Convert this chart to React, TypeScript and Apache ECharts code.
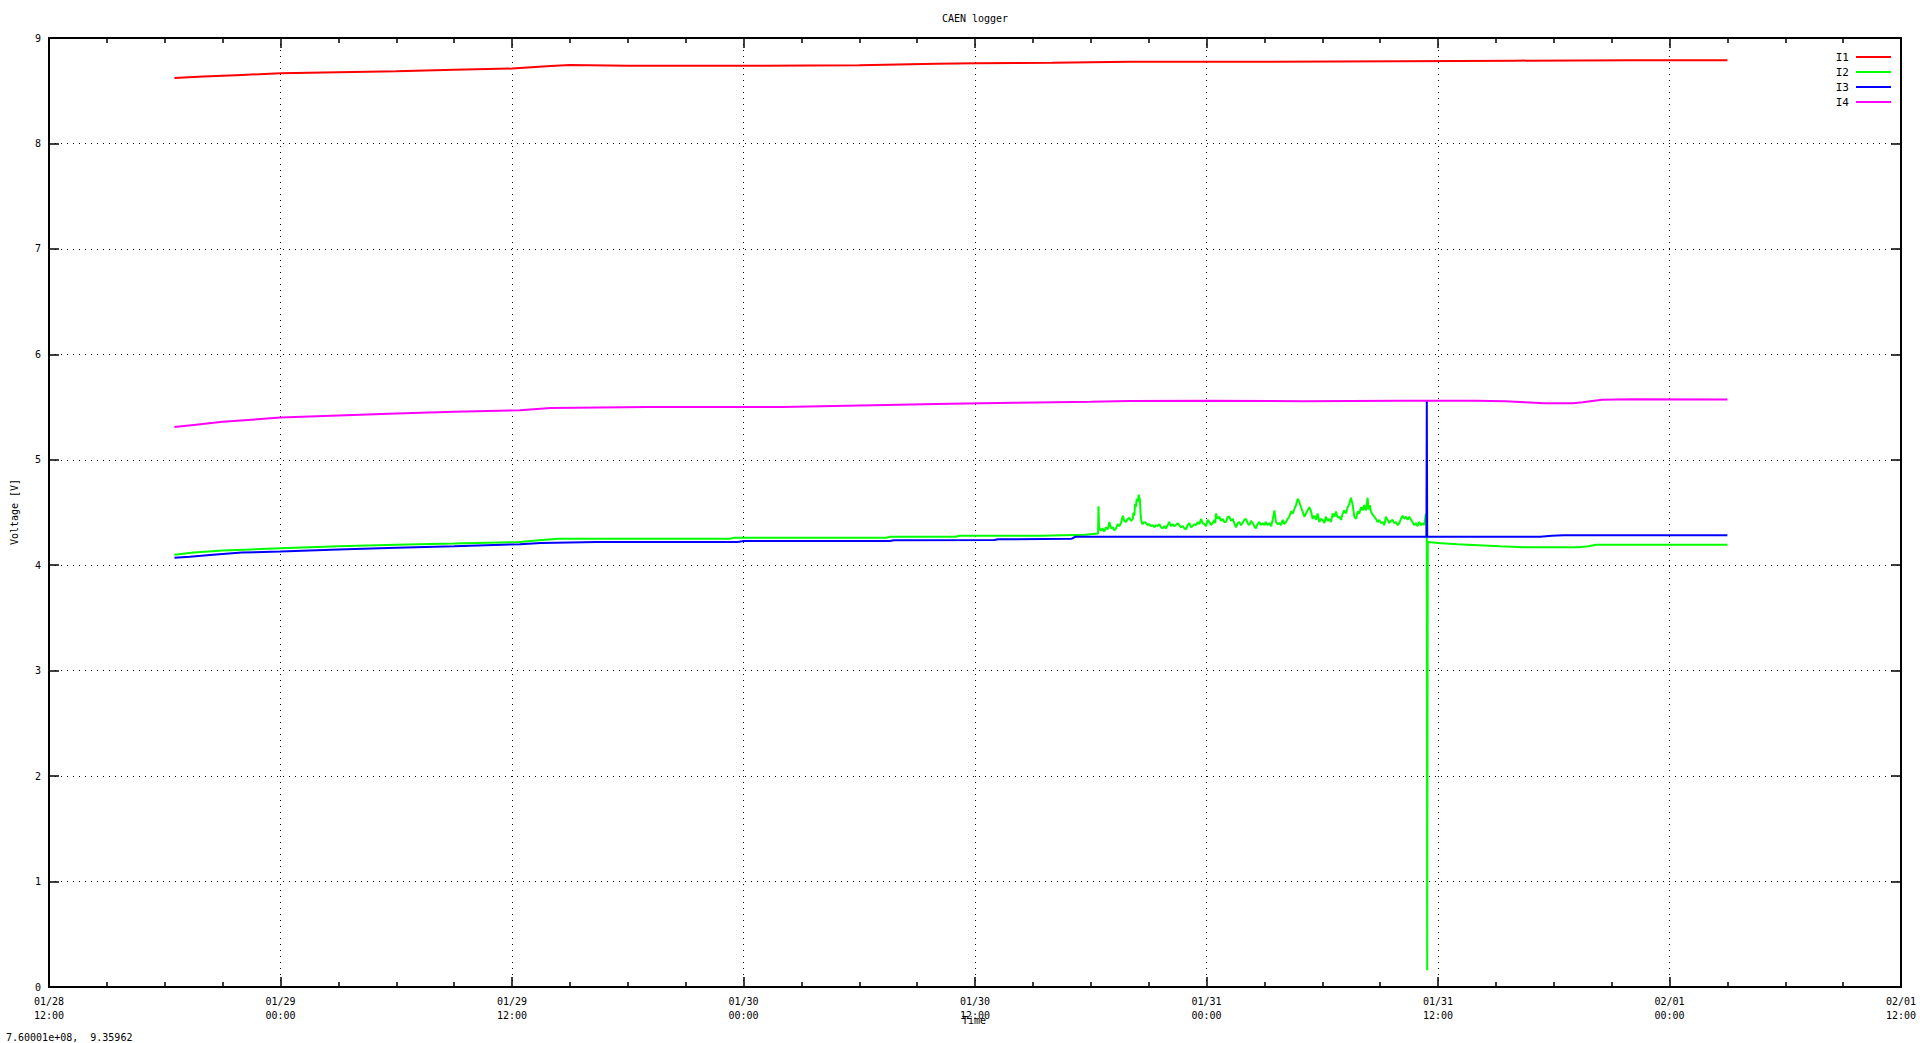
import React, { useEffect, useRef } from "react";
import * as echarts from "echarts";

// x values are hours since 01/28 12:00
const xTickLabels = [
  "01/28\n12:00", "01/29\n00:00", "01/29\n12:00", "01/30\n00:00", "01/30\n12:00",
  "01/31\n00:00", "01/31\n12:00", "02/01\n00:00", "02/01\n12:00",
];
const seriesNames = ["I1", "I2", "I3", "I4"];
const seriesColors = ["#ff0000", "#00ff00", "#0000ff", "#ff00ff"];

const i1Data: [number, number][] = [
  [6.5, 8.62], [8, 8.635], [10, 8.65], [12, 8.665], [15, 8.675], [18, 8.685], [21, 8.7],
  [24, 8.71], [26, 8.735], [27, 8.745], [30, 8.737], [36, 8.737], [42, 8.742], [46, 8.755],
  [48, 8.76], [52, 8.765], [56, 8.775], [62, 8.775], [70, 8.78], [76, 8.785], [82, 8.79], [87, 8.79],
];

const i2Data: [number, number][] = [
  [6.5, 4.1], [7.5, 4.12], [9, 4.14], [10.5, 4.15], [12, 4.16], [15, 4.18], [18, 4.195], [21, 4.205],
  [24.4, 4.22], [25.4, 4.237], [26.4, 4.25], [35.3, 4.25], [35.5, 4.26], [43.4, 4.26], [43.6, 4.27],
  [47, 4.27], [47.2, 4.28], [51.4, 4.28], [53.7, 4.29], [54.38, 4.3],
  [54.4, 4.56], [54.43, 4.37], [54.47, 4.34], [54.55, 4.33], [54.62, 4.35], [54.7, 4.32], [54.79, 4.36],
  [54.88, 4.34], [54.97, 4.41], [55.05, 4.35], [55.14, 4.36], [55.22, 4.33], [55.31, 4.35], [55.4, 4.39],
  [55.48, 4.37], [55.57, 4.4], [55.66, 4.47], [55.74, 4.42], [55.83, 4.41], [55.92, 4.44], [56.0, 4.45],
  [56.09, 4.42], [56.18, 4.44], [56.21, 4.5], [56.26, 4.47], [56.3, 4.58], [56.34, 4.55], [56.38, 4.63],
  [56.44, 4.6], [56.49, 4.67], [56.52, 4.64], [56.55, 4.62], [56.58, 4.5], [56.61, 4.44], [56.65, 4.4],
  [56.69, 4.39], [56.78, 4.41], [56.87, 4.4], [56.95, 4.38], [57.04, 4.39], [57.12, 4.37], [57.21, 4.38],
  [57.3, 4.36], [57.38, 4.38], [57.47, 4.37], [57.56, 4.39], [57.64, 4.36], [57.73, 4.35], [57.82, 4.37],
  [57.9, 4.35], [57.99, 4.38], [58.07, 4.41], [58.16, 4.37], [58.25, 4.39], [58.33, 4.37], [58.42, 4.38],
  [58.51, 4.4], [58.59, 4.38], [58.68, 4.36], [58.77, 4.37], [58.85, 4.35], [58.94, 4.34], [59.02, 4.38],
  [59.11, 4.4], [59.2, 4.36], [59.28, 4.37], [59.37, 4.39], [59.46, 4.38], [59.55, 4.41], [59.63, 4.39],
  [59.72, 4.44], [59.8, 4.4], [59.89, 4.39], [59.97, 4.37], [60.06, 4.43], [60.15, 4.41], [60.23, 4.38],
  [60.32, 4.4], [60.41, 4.43], [60.45, 4.4], [60.49, 4.49], [60.57, 4.44], [60.66, 4.46], [60.75, 4.42],
  [60.84, 4.44], [60.92, 4.41], [61.01, 4.41], [61.1, 4.46], [61.18, 4.46], [61.27, 4.42], [61.36, 4.44],
  [61.44, 4.4], [61.53, 4.36], [61.62, 4.4], [61.7, 4.41], [61.79, 4.38], [61.87, 4.4], [61.96, 4.43],
  [62.05, 4.44], [62.13, 4.4], [62.22, 4.38], [62.31, 4.42], [62.39, 4.4], [62.48, 4.37], [62.56, 4.35],
  [62.65, 4.39], [62.74, 4.41], [62.82, 4.38], [62.91, 4.4], [63.0, 4.38], [63.08, 4.41], [63.17, 4.38],
  [63.26, 4.4], [63.35, 4.37], [63.43, 4.43], [63.52, 4.52], [63.6, 4.41], [63.69, 4.39], [63.77, 4.4],
  [63.86, 4.38], [63.95, 4.43], [64.03, 4.39], [64.12, 4.41], [64.21, 4.44], [64.29, 4.46], [64.38, 4.51],
  [64.47, 4.49], [64.55, 4.53], [64.64, 4.57], [64.73, 4.63], [64.81, 4.6], [64.9, 4.55], [64.98, 4.51],
  [65.07, 4.46], [65.16, 4.49], [65.24, 4.52], [65.33, 4.55], [65.42, 4.51], [65.5, 4.44], [65.59, 4.47],
  [65.68, 4.43], [65.76, 4.49], [65.85, 4.41], [65.93, 4.44], [66.02, 4.43], [66.11, 4.4], [66.19, 4.46],
  [66.28, 4.42], [66.37, 4.44], [66.45, 4.41], [66.54, 4.49], [66.63, 4.46], [66.71, 4.51], [66.8, 4.45],
  [66.88, 4.46], [66.97, 4.43], [67.06, 4.49], [67.14, 4.52], [67.23, 4.49], [67.32, 4.55], [67.4, 4.58],
  [67.49, 4.64], [67.58, 4.57], [67.66, 4.46], [67.75, 4.44], [67.84, 4.51], [67.92, 4.49], [68.01, 4.55],
  [68.1, 4.52], [68.18, 4.57], [68.27, 4.52], [68.35, 4.64], [68.4, 4.53], [68.47, 4.57], [68.52, 4.51],
  [68.61, 4.48], [68.7, 4.46], [68.78, 4.44], [68.87, 4.41], [68.96, 4.43], [69.04, 4.4], [69.13, 4.41],
  [69.22, 4.38], [69.3, 4.46], [69.39, 4.43], [69.47, 4.4], [69.56, 4.42], [69.65, 4.43], [69.73, 4.4],
  [69.82, 4.41], [69.91, 4.38], [69.99, 4.4], [70.08, 4.44], [70.17, 4.47], [70.25, 4.44], [70.34, 4.46],
  [70.43, 4.43], [70.51, 4.46], [70.6, 4.43], [70.68, 4.41], [70.77, 4.38], [70.86, 4.4], [70.94, 4.37],
  [71.03, 4.41], [71.12, 4.38], [71.2, 4.4], [71.29, 4.38], [71.37, 4.49], [71.42, 4.4],
  [71.44, 0.16], [71.47, 4.22], [72.0, 4.21], [73.0, 4.2], [75.2, 4.18], [76.5, 4.17], [79.3, 4.17],
  [79.8, 4.18], [80.2, 4.195], [87, 4.195],
];

const i3Data: [number, number][] = [
  [6.5, 4.07], [7.3, 4.08], [8.5, 4.1], [10, 4.12], [12, 4.13], [15, 4.15], [18, 4.165], [21, 4.18],
  [24.4, 4.2], [25.5, 4.21], [28.4, 4.22], [35.7, 4.22], [36, 4.23], [43.6, 4.23], [43.8, 4.237],
  [49, 4.24], [49.2, 4.246], [53, 4.25], [53.2, 4.27], [71.4, 4.27], [71.42, 5.56], [71.44, 4.27],
  [77.3, 4.27], [77.9, 4.28], [78.5, 4.285], [87, 4.285],
];

const i4Data: [number, number][] = [
  [6.5, 5.31], [7.5, 5.33], [9, 5.36], [10.5, 5.38], [12, 5.4], [15, 5.42], [18, 5.44], [21, 5.455],
  [24.4, 5.47], [26, 5.49], [31, 5.5], [38, 5.5], [43.4, 5.52], [46, 5.53], [50, 5.54], [54, 5.55],
  [56, 5.557], [60, 5.56], [65, 5.555], [70, 5.56], [74, 5.56], [75.5, 5.555], [76.5, 5.545],
  [77.5, 5.535], [79, 5.535], [79.5, 5.545], [80.5, 5.57], [82, 5.575], [87, 5.572],
];

const FONT = "'DejaVu Sans Mono', monospace";

export default function App() {
  const ref = useRef<HTMLDivElement>(null);
  useEffect(() => {
    if (!ref.current) return;
    const chart = echarts.init(ref.current, null, { renderer: "svg" });
    const allData = [i1Data, i2Data, i3Data, i4Data];
    const tickLine = { color: "#000", width: 1.5 };
    const dotted = { color: "#000", width: 1, type: [1, 5] as any };
    const common = { fontFamily: FONT, fontSize: 10, color: "#000" };
    chart.setOption({
      animation: false,
      backgroundColor: "#fff",
      grid: { left: 49, right: 19, top: 38, bottom: 56, containLabel: false },
      legend: {
        orient: "vertical",
        right: 29,
        top: 51,
        padding: 0,
        align: "right",
        icon: "rect",
        itemWidth: 35,
        itemHeight: 2,
        itemGap: 3,
        textStyle: { ...common, fontSize: 11, lineHeight: 12, padding: [0, 2, 0, 0] },
        data: seriesNames,
      },
      xAxis: [
        {
          type: "value",
          min: 0,
          max: 96,
          interval: 12,
          position: "bottom",
          axisLine: { show: true, onZero: false, lineStyle: { color: "#000", width: 2 } },
          axisTick: { show: true, inside: true, length: 10, lineStyle: tickLine },
          minorTick: { show: true, splitNumber: 4, length: 5, lineStyle: tickLine },
          splitLine: { show: true, lineStyle: dotted },
          axisLabel: {
            ...common,
            margin: 7,
            lineHeight: 14,
            formatter: (v: number) => xTickLabels[Math.round(v / 12)] ?? "",
          },
        },
        {
          type: "value",
          min: 0,
          max: 96,
          interval: 12,
          position: "top",
          axisLine: { show: true, onZero: false, lineStyle: { color: "#000", width: 2 } },
          axisTick: { show: true, inside: true, length: 10, lineStyle: tickLine },
          minorTick: { show: true, splitNumber: 4, length: 5, lineStyle: tickLine },
          splitLine: { show: false },
          axisLabel: { show: false },
        },
      ],
      yAxis: [
        {
          type: "value",
          min: 0,
          max: 9,
          interval: 1,
          position: "left",
          axisLine: { show: true, onZero: false, lineStyle: { color: "#000", width: 2 } },
          axisTick: { show: true, inside: true, length: 10, lineStyle: tickLine },
          splitLine: { show: true, lineStyle: dotted },
          axisLabel: { ...common, margin: 8 },
        },
        {
          type: "value",
          min: 0,
          max: 9,
          interval: 1,
          position: "right",
          axisLine: { show: true, onZero: false, lineStyle: { color: "#000", width: 2 } },
          axisTick: { show: true, inside: true, length: 10, lineStyle: tickLine },
          splitLine: { show: false },
          axisLabel: { show: false },
        },
      ],
      series: seriesNames.map((name, i) => ({
        name,
        type: "line",
        xAxisIndex: 0,
        yAxisIndex: 0,
        data: allData[i],
        showSymbol: false,
        symbol: "none",
        color: seriesColors[i],
        lineStyle: { color: seriesColors[i], width: 2 },
        z: 2 + i,
      })),
      graphic: [
        {
          type: "text",
          x: 975,
          y: 18,
          style: {
            text: "CAEN logger",
            fontFamily: FONT,
            fontSize: 10,
            fill: "#000",
            textAlign: "center",
            textVerticalAlign: "middle",
            align: "center",
            verticalAlign: "middle",
          },
        },
        {
          type: "text",
          x: 974,
          y: 1020,
          style: {
            text: "Time",
            fontFamily: FONT,
            fontSize: 10,
            fill: "#000",
            textAlign: "center",
            textVerticalAlign: "middle",
            align: "center",
            verticalAlign: "middle",
          },
        },
        {
          type: "text",
          x: 14,
          y: 512,
          rotation: Math.PI / 2,
          style: {
            text: "Voltage [V]",
            fontFamily: FONT,
            fontSize: 10,
            fill: "#000",
            textAlign: "center",
            textVerticalAlign: "middle",
            align: "center",
            verticalAlign: "middle",
          },
        },
        {
          type: "text",
          x: 6,
          y: 1037,
          style: {
            text: "7.60001e+08,  9.35962",
            fontFamily: FONT,
            fontSize: 10,
            fill: "#000",
            textAlign: "left",
            textVerticalAlign: "middle",
            align: "left",
            verticalAlign: "middle",
          },
        },
      ],
    });
    return () => chart.dispose();
  }, []);
  return (
    <div
      ref={ref}
      style={{ position: "fixed", left: 0, top: 0, width: 1920, height: 1043, background: "#fff" }}
    />
  );
}
